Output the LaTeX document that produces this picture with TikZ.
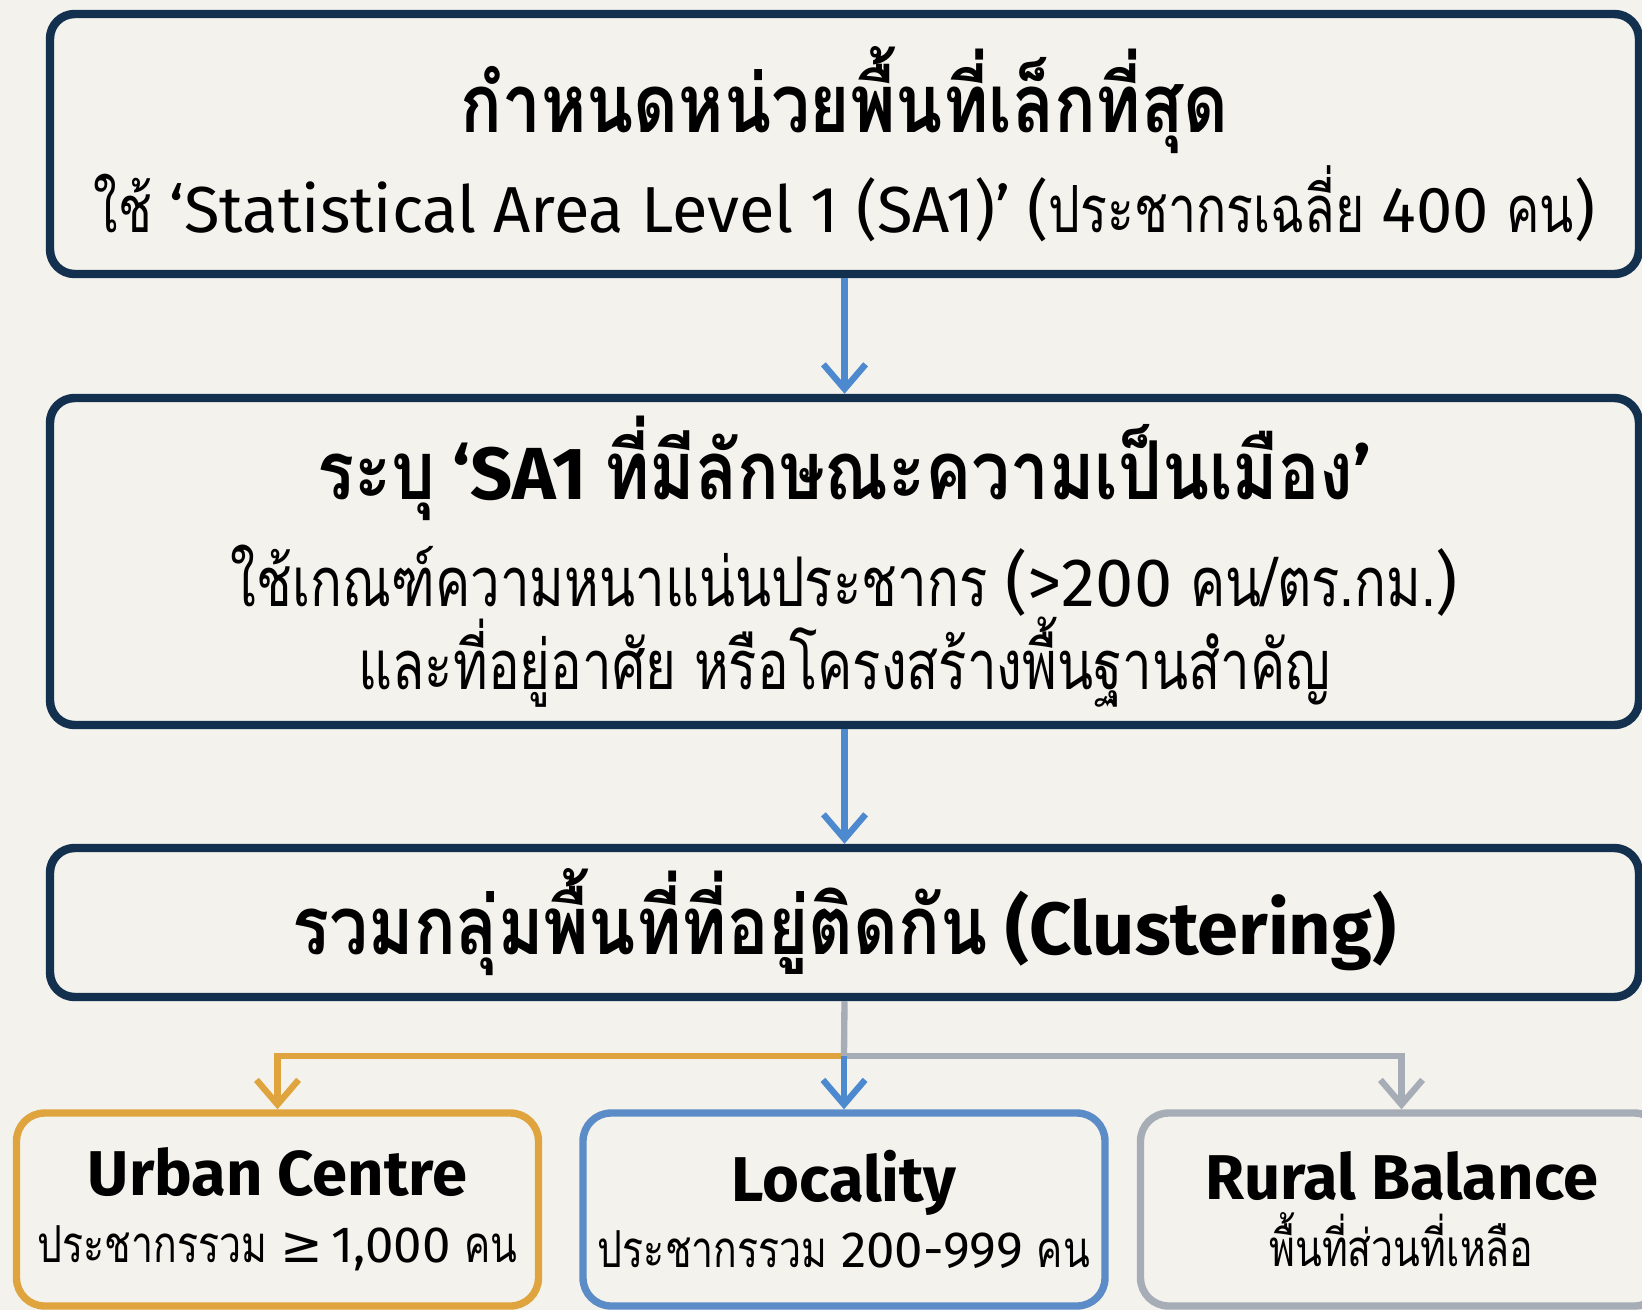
\documentclass[tikz,border=0pt]{standalone}
\usepackage{fontspec}
\setmainfont{Fira Sans}
\newfontfamily\thaifont[Script=Thai,Scale=1.0,FakeStretch=0.77]{Loma}
\newfontfamily\thaihead[Script=Thai,Scale=1.1,FakeStretch=0.85]{Loma}
\newfontfamily\symfont{DejaVu Sans}
\usetikzlibrary{arrows.meta}

\definecolor{bgcream}{HTML}{F4F2EC}
\definecolor{navy}{HTML}{14304F}
\definecolor{flowblue}{HTML}{4D89CF}
\definecolor{locblue}{HTML}{5B8CC8}
\definecolor{urbanorange}{HTML}{E0A43F}
\definecolor{ruralgray}{HTML}{A6ADB6}

\newcommand{\steptitle}{\bfseries\fontsize{21}{25}\selectfont}
\newcommand{\classtitle}{\bfseries\fontsize{18}{22}\selectfont}

\begin{document}
\begin{tikzpicture}
    [
        stepbox/.style={draw=navy, line width=2.4pt, rounded corners=7pt, fill=bgcream,
            align=center, minimum width=15.89cm, inner sep=0pt, font=\fontsize{18.5}{22.5}\selectfont},
        classbox/.style={line width=2.1pt, rounded corners=8pt, fill=bgcream, align=center,
            minimum width=5.22cm, minimum height=1.93cm, inner sep=0pt, font=\fontsize{14.5}{20}\selectfont},
        edge/.style={-{Straight Barb[length=7pt,width=12pt]}, line width=1.8pt, draw=flowblue},
    ]

    \fill [bgcream] (0,0) rectangle (16.42,-13.10);
    \useasboundingbox (0,0) rectangle (16.42,-13.10);

    % three steps
    \node (s1) at (8.445,-1.44)  [stepbox, minimum height=2.60cm]
        {{\steptitle\thaihead กำหนดหน่วยพื้นที่เล็กที่สุด}\\[2.5pt]
         {\thaifont ใช้} ‘Statistical Area Level 1 (SA1)’ ({\thaifont ประชากรเฉลี่ย} 400 {\thaifont คน})};
    \node (s2) at (8.445,-5.615) [stepbox, minimum height=3.27cm, font=\fontsize{19.5}{23.5}\selectfont]
        {{\steptitle{\thaihead ระบุ} ‘SA1 {\thaihead ที่มีลักษณะความเป็นเมือง}’}\\[6pt]
         {\thaifont ใช้เกณฑ์ความหนาแน่นประชากร} (>200 {\thaifont คน/ตร.กม.})\\[0pt]
         {\thaifont และที่อยู่อาศัย หรือโครงสร้างพื้นฐานสำคัญ}};
    \node (s3) at (8.445,-9.225) [stepbox, minimum height=1.49cm]
        {{\steptitle{\thaihead รวมกลุ่มพื้นที่ที่อยู่ติดกัน} (Clustering)}};

    % result classes
    \node (uc) at (2.775,-12.095) [classbox, draw=urbanorange]
        {{\classtitle Urban Centre}\\[-1pt]
         {\thaifont ประชากรรวม} {\symfont ≥}\,1,000 {\thaifont คน}};
    \node (lo) at (8.44,-12.095)  [classbox, draw=locblue]
        {{\classtitle Locality}\\[-1pt]
         {\thaifont ประชากรรวม} 200-999 {\thaifont คน}};
    \node (rb) at (14.015,-12.095) [classbox, draw=ruralgray]
        {{\classtitle Rural Balance}\\[-1pt]
         {\thaifont พื้นที่ส่วนที่เหลือ}};

    \coordinate (j) at (8.44,-10.56);

    \draw [edge] (s1.south) -- (s2.north);
    \draw [edge] (s2.south) -- (s3.north);
    \draw [edge, draw=urbanorange] (j) -| (uc.north);
    \draw [edge, draw=ruralgray] (j) -| (rb.north);
    \draw [line width=1.8pt, draw=ruralgray] (s3.south) -- (j);
    \draw [edge] (j) -- (lo.north);

\end{tikzpicture}
\end{document}
